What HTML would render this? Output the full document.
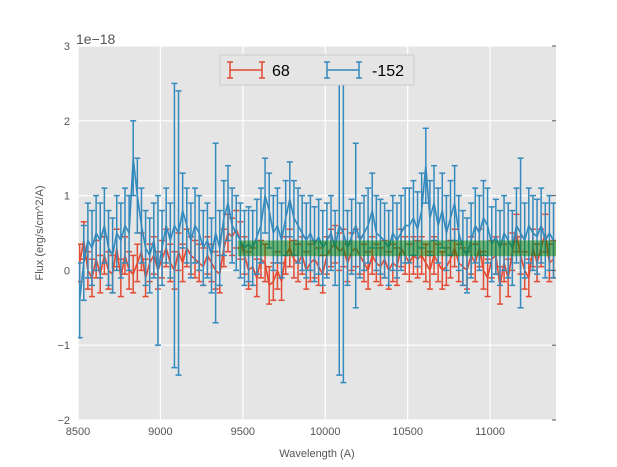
<!DOCTYPE html>
<html><head><meta charset="utf-8"><style>
body{margin:0;background:#fff;font-family:"Liberation Sans",sans-serif}
svg{display:block}
</style></head><body>
<svg id="chart" width="617" height="467" xmlns="http://www.w3.org/2000/svg" font-family="Liberation Sans, sans-serif">
<rect x="78" y="46" width="478" height="374" fill="#E5E5E5"/>
<g id="grid"></g>
<g id="series"></g>
<g id="axes"></g>
<text x="76" y="44" font-size="14" fill="#555">1e−18</text>
<text x="317" y="457" font-size="11" fill="#555" text-anchor="middle">Wavelength (A)</text>
<text transform="translate(43,233) rotate(-90)" font-size="11" fill="#555" text-anchor="middle">Flux (erg/s/cm^2/A)</text>
<g>
<rect x="220" y="55" width="194" height="30" fill="#E5E5E5" stroke="#ccc"/>
<g stroke="#E24A33" stroke-width="1.5">
<line x1="230" y1="70" x2="262" y2="70"/><line x1="230" y1="62" x2="230" y2="78"/><line x1="262" y1="62" x2="262" y2="78"/><line x1="227" y1="62" x2="233" y2="62"/><line x1="227" y1="78" x2="233" y2="78"/><line x1="259" y1="62" x2="265" y2="62"/><line x1="259" y1="78" x2="265" y2="78"/>
</g>
<text x="272" y="76" font-size="16" fill="#000">68</text>
<g stroke="#348ABD" stroke-width="1.5">
<line x1="327" y1="70" x2="359" y2="70"/><line x1="327" y1="62" x2="327" y2="78"/><line x1="359" y1="62" x2="359" y2="78"/><line x1="324" y1="62" x2="330" y2="62"/><line x1="324" y1="78" x2="330" y2="78"/><line x1="356" y1="62" x2="362" y2="62"/><line x1="356" y1="78" x2="362" y2="78"/>
</g>
<text x="372" y="76" font-size="16" fill="#000">-152</text>
</g>
</svg>
<script>
const xStart = 8510, xStep = 25;
const redValues = [0.1,0.4,0.0,-0.1,0.15,-0.05,0.2,0.0,-0.05,0.3,
-0.1,0.2,0.0,-0.05,0.1,0.25,-0.1,0.1,0.2,0.0,
0.15,0.3,0.1,0.0,0.25,0.1,0.3,0.2,0.15,0.1,
0.05,0.2,0.1,0.0,-0.05,0.3,0.5,0.45,0.55,0.4,
0.2,0.0,0.05,-0.1,0.15,0.1,-0.2,-0.15,0.0,-0.15,
0.2,0.3,0.15,0.1,0.2,0.0,0.1,0.15,0.05,-0.05,
0.2,0.3,0.35,0.25,0.3,0.1,0.25,0.3,0.2,0.1,
0.0,0.2,0.1,0.05,0.15,0.0,0.1,0.05,0.3,0.2,
0.1,0.2,0.15,0.2,0.1,0.0,0.2,0.1,0.0,0.05,
0.15,0.3,0.1,0.05,0.0,0.2,0.1,0.3,0.0,-0.1,
0.15,0.2,-0.2,0.1,-0.1,0.25,0.5,0.2,0.0,-0.1,
0.3,0.1,0.3,0.5,0.1,0.15];
const blueValues = [-0.4,0.1,0.4,0.3,0.5,0.4,0.6,0.3,0.2,0.5,
0.4,0.6,0.5,1.5,1.0,0.6,0.3,0.2,0.4,0.0,
0.3,0.6,0.4,0.6,0.5,0.8,0.6,0.4,0.6,0.5,
0.3,0.4,0.2,0.5,0.3,0.7,0.9,0.6,0.5,0.4,
0.3,0.35,0.3,0.45,0.6,1.0,0.8,0.5,0.6,0.4,
0.7,0.95,0.7,0.6,0.5,0.4,0.5,0.35,0.45,0.3,
0.4,0.5,0.3,0.6,0.5,0.3,0.45,0.6,0.4,0.5,
0.6,0.8,0.5,0.45,0.4,0.3,0.5,0.4,0.5,0.6,
0.6,0.7,0.55,0.8,1.4,0.7,0.9,0.6,0.8,0.5,
0.7,0.9,0.5,0.3,0.2,0.4,0.6,0.5,0.7,0.6,
0.35,0.45,0.3,0.5,0.4,0.3,0.6,0.5,0.4,0.6,
0.5,0.45,0.6,0.4,0.5,0.4];
const redErr = 0.25;
const blueErrDefault = 0.5;
const blueErrSpecial = {19:1.0, 23:1.9, 24:1.9, 33:1.2, 63:2.0, 64:2.0, 67:1.1, 107:1.0};
const bandRange = [9470, 11400];
const bandFlux = [0.19, 0.40];
const xTicks = [8500,9000,9500,10000,10500,11000];
const yTicks = [-2,-1,0,1,2,3];
const yTickLabels = ["−2","−1","0","1","2","3"];

const X0=78,X1=556,Y0=46,Y1=420, xmin=8500,xmax=11400,ymin=-2,ymax=3;
const sx=v=>X0+(v-xmin)/(xmax-xmin)*(X1-X0);
const sy=v=>Y1-(v-ymin)/(ymax-ymin)*(Y1-Y0);
const NS="http://www.w3.org/2000/svg";
function mk(tag,attrs,parent){const e=document.createElementNS(NS,tag);for(const k in attrs)e.setAttribute(k,attrs[k]);parent.appendChild(e);return e;}
const grid=document.getElementById('grid'),axes=document.getElementById('axes'),series=document.getElementById('series');
xTicks.forEach(t=>{
  const l=mk('line',{x1:sx(t),x2:sx(t),y1:Y0,y2:Y1,stroke:'#fff','stroke-width':1.2},grid);
  
  
  const tx=mk('text',{x:sx(t),y:Y1+15,'font-size':11,fill:'#555','text-anchor':'middle'},axes);
  tx.textContent=t;
  
  
});
yTicks.forEach((t,i)=>{
  const l=mk('line',{x1:X0,x2:X1,y1:sy(t),y2:sy(t),stroke:'#fff','stroke-width':1.2},grid);
  
  
  const tk=mk('line',{x1:X1-4,x2:X1,y1:sy(t),y2:sy(t),stroke:'#555'},axes);
  
  
  const tx=mk('text',{x:X0-8,y:sy(t)+4,'font-size':11,fill:'#555','text-anchor':'end'},axes);
  tx.textContent=yTickLabels[i];
  
  
});
function drawSeries(vals,errFn,color,name){
  const g=mk('g',{stroke:color,'stroke-width':1.5,fill:'none'},series);
  
  
  g.setAttribute('clip-path','url(#pc)');
  vals.forEach((v,i)=>{
    const x=sx(xStart+i*xStep),e=errFn(i);
    const a=sy(v+e),b=sy(v-e);
    mk('line',{x1:x,x2:x,y1:a,y2:b},g);
    mk('line',{x1:x-3,x2:x+3,y1:a,y2:a},g);
    mk('line',{x1:x-3,x2:x+3,y1:b,y2:b},g);
  });
  const p=mk('polyline',{points:vals.map((v,i)=>sx(xStart+i*xStep)+','+sy(v)).join(' '),'stroke-width':1.6},g);
  
  
}
const defs=mk('defs',{},document.getElementById('chart'));
const cp=mk('clipPath',{id:'pc'},defs);mk('rect',{x:X0,y:Y0,width:X1-X0,height:Y1-Y0},cp);
drawSeries(redValues,()=>redErr,'#E24A33','series-68');
drawSeries(blueValues,i=>blueErrSpecial[i]||blueErrDefault,'#348ABD','series-minus152');
const band=mk('rect',{x:sx(bandRange[0]),y:sy(bandFlux[1]),width:sx(bandRange[1])-sx(bandRange[0]),height:sy(bandFlux[0])-sy(bandFlux[1]),fill:'#008000','fill-opacity':0.5},series);


</script>
</body></html>
